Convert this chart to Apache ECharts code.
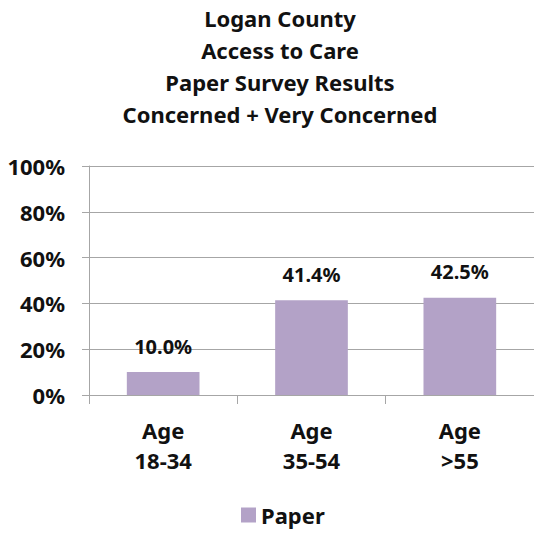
<!DOCTYPE html>
<html>
<head>
<meta charset="utf-8">
<script src="https://cdn.jsdelivr.net/npm/echarts@6/dist/echarts.min.js"></script>
<style>
  html, body { margin: 0; padding: 0; background: #fff; }
  #chart { width: 534px; height: 533px; }
</style>
</head>
<body>
<div id="chart"></div>
<script>
const categories = ['Age\n18-34', 'Age\n35-54', 'Age\n>55'];
const paper = [10.0, 41.4, 42.5];
const yTicks = [0, 20, 40, 60, 80, 100];

const font = '"Noto Sans", sans-serif';
const chart = echarts.init(document.getElementById('chart'), null, { renderer: 'svg' });

chart.setOption({
  animation: false,
  title: {
    text: 'Logan County\nAccess to Care\nPaper Survey Results\nConcerned + Very Concerned',
    left: 275,
    textAlign: 'center',
    top: -3,
    textStyle: {
      fontFamily: font,
      fontSize: 22,
      fontWeight: 'bold',
      color: '#111',
      lineHeight: 32
    }
  },
  legend: {
    data: ['Paper'],
    bottom: 2,
    left: 236,
    itemWidth: 15,
    itemHeight: 15,
    itemGap: 8,
    icon: 'rect',
    textStyle: { fontFamily: font, fontSize: 22, fontWeight: 'bold', color: '#111' }
  },
  grid: { left: 89, right: 0, top: 166, bottom: 138 },
  xAxis: {
    type: 'category',
    data: categories,
    axisLine: { lineStyle: { color: '#a6a6a6', width: 1 } },
    axisTick: { show: true, length: 9, lineStyle: { color: '#a6a6a6' } },
    axisLabel: {
      fontFamily: font,
      fontSize: 22,
      fontWeight: 'bold',
      color: '#111',
      lineHeight: 30,
      margin: 20
    }
  },
  yAxis: {
    type: 'value',
    min: 0,
    max: 100,
    interval: 20,
    axisLine: { show: true, lineStyle: { color: '#a6a6a6' } },
    axisTick: { show: true, length: 7, lineStyle: { color: '#a6a6a6' } },
    splitLine: { lineStyle: { color: '#a6a6a6' } },
    axisLabel: {
      fontFamily: font,
      fontSize: 22,
      fontWeight: 'bold',
      color: '#111',
      margin: 24,
      customValues: yTicks,
      formatter: v => v + '%'
    }
  },
  series: [{
    name: 'Paper',
    type: 'bar',
    data: paper,
    barWidth: '49%',
    itemStyle: { color: '#b3a2c7' },
    label: {
      show: true,
      position: 'top',
      distance: 16,
      fontFamily: font,
      fontSize: 20,
      fontWeight: 'bold',
      color: '#111',
      formatter: p => p.value.toFixed(1) + '%'
    }
  }]
});
</script>
</body>
</html>
